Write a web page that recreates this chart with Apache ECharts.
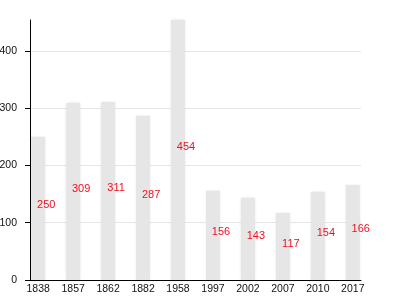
<!DOCTYPE html>
<html>
<head>
<meta charset="utf-8">
<script src="https://cdn.jsdelivr.net/npm/echarts@6/dist/echarts.min.js"></script>
<style>html,body{margin:0;padding:0;background:#fff}#c{width:400px;height:300px}</style>
</head>
<body>
<div id="c"></div>
<script>
const years = ['1838','1857','1862','1882','1958','1997','2002','2007','2010','2017'];
const values = [250, 309, 311, 287, 454, 156, 143, 117, 154, 166];
const yTicks = [0, 100, 200, 300, 400];

const chart = echarts.init(document.getElementById('c'));
const idx = years.map((_, i) => i);
chart.setOption({
  animation: false,
  grid: { left: 30, right: 39, top: 20, bottom: 20, containLabel: false, outerBoundsMode: 'none' },
  xAxis: {
    type: 'value',
    min: -0.235,
    max: 9.235,
    axisLine: { show: true, onZero: false, lineStyle: { color: '#000', width: 1 } },
    axisTick: { show: false },
    splitLine: { show: false },
    axisLabel: {
      customValues: idx,
      formatter: v => years[Math.round(v)],
      color: '#111', fontSize: 10.5, fontFamily: 'Liberation Sans, Arial, sans-serif', margin: 4
    }
  },
  yAxis: {
    type: 'value',
    min: 0,
    max: 'dataMax',
    axisLine: { show: true, onZero: false, lineStyle: { color: '#000', width: 1 } },
    axisTick: { show: true, customValues: yTicks, length: 5, lineStyle: { color: '#000' } },
    splitLine: { show: true, lineStyle: { color: '#e6e6e6' } },
    axisLabel: {
      customValues: yTicks,
      color: '#111', fontSize: 10.5, fontFamily: 'Liberation Sans, Arial, sans-serif', margin: 13
    }
  },
  series: [{
    type: 'bar',
    barWidth: 14,
    data: values.map((v, i) => [i, v]),
    itemStyle: { color: '#e6e6e6', shadowBlur: 3, shadowColor: 'rgba(0,0,0,0.12)' },
    label: {
      show: true,
      position: 'inside',
      offset: [8, -3],
      color: '#f01020',
      fontSize: 11,
      fontFamily: 'Liberation Sans, Arial, sans-serif'
    }
  }]
});
</script>
</body>
</html>
